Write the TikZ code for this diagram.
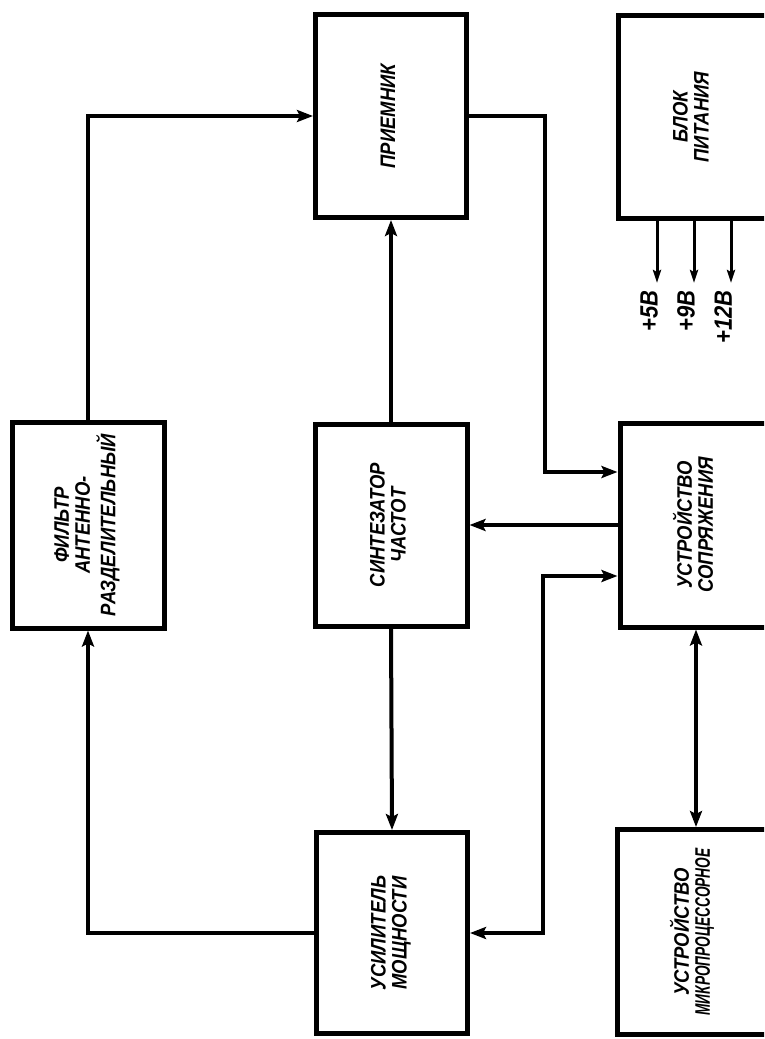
\documentclass[tikz,border=0pt]{standalone}
\usepackage{fontspec}
\setmainfont{Liberation Sans}
\newfontfamily\drw[FakeStretch=0.88]{Liberation Sans}
\usetikzlibrary{arrows.meta}
\newcommand\rlab[1]{\rotatebox{90}{\begin{tabular}{@{}c@{}}#1\end{tabular}}}
\begin{document}
\begin{tikzpicture}[x=1pt,y=-1pt,
  box/.style={draw, line width=5pt, inner sep=0pt,
    font=\drw\bfseries\itshape\fontsize{21}{21}\selectfont},
  conn/.style={line width=4pt, -{Stealth[length=16pt,width=12pt,inset=3pt]}},
  dconn/.style={line width=4pt, {Stealth[length=16pt,width=12pt,inset=3pt]}-{Stealth[length=16pt,width=12pt,inset=3pt]}},
  pwr/.style={line width=3pt, -{Stealth[length=13pt,width=8pt,inset=2pt]}},
  vlab/.style={rotate=90, inner sep=0pt, anchor=south east,
    font=\drw\bfseries\itshape\fontsize{25}{25}\selectfont}]
\useasboundingbox (0,0) rectangle (764,1039);
\clip (0,0) rectangle (764,1039);
\fill[white] (0,0) rectangle (764,1039);
% boxes
\node[box, minimum width=152pt, minimum height=206pt] (fil) at (88,525)
  {\rlab{ФИЛЬТР\\АНТЕННО-\\РАЗДЕЛИТЕЛЬНЫЙ}};
\node[box, minimum width=152pt, minimum height=202pt] (syn) at (391,525)
  {\rlab{СИНТЕЗАТОР\\ЧАСТОТ}};
\node[box, minimum width=151pt, minimum height=203pt] (rx) at (391,116)
  {\rlab{ПРИЕМНИК}};
\node[box, minimum width=151pt, minimum height=201pt] (pa) at (392,933)
  {\rlab{УСИЛИТЕЛЬ\\МОЩНОСТИ}};
\node[box, minimum width=152pt, minimum height=203pt] (bp) at (694,117)
  {\rlab{БЛОК\\ПИТАНИЯ}};
\node[box, minimum width=152pt, minimum height=204pt] (us) at (696,525)
  {\rlab{УСТРОЙСТВО\\СОПРЯЖЕНИЯ}};
\node[box, minimum width=152pt, minimum height=205pt] (mp) at (693,932)
  {\rlab{УСТРОЙСТВО\\\scalebox{0.74}[1]{МИКРОПРОЦЕССОРНОЕ}}};
% helper coordinates
\coordinate (c1) at (545,472);
\coordinate (c2) at (543,576);
\coordinate (v5) at (657,283);
\coordinate (v9) at (694,283);
\coordinate (v12) at (731,283);
% connectors
\draw[conn] (fil.north) |- (rx.west);
\draw[conn] (syn.north) -- (rx.south);
\draw[conn] (rx.east) -| (c1) -- (c1 -| us.west);
\draw[conn] (us.west) -- (syn.east);
\draw[dconn] (pa.east) -| (c2) -- (c2 -| us.west);
\draw[conn] (syn.south) -- (pa.north);
\draw[conn] (pa.west) -| (fil.south);
\draw[dconn] (us.south) -- (us.south |- mp.north);
\draw[pwr] (bp.south -| v5) -- (v5);
\draw[pwr] (bp.south -| v9) -- (v9);
\draw[pwr] (bp.south -| v12) -- (v12);
\node[vlab] (l5) at ([xshift=1pt,yshift=-7pt]v5) {+5В};
\node[vlab] (l9) at ([xshift=1pt,yshift=-7pt]v9) {+9В};
\node[vlab] (l12) at ([xshift=1pt,yshift=-7pt]v12) {+12В};
\end{tikzpicture}
\end{document}
